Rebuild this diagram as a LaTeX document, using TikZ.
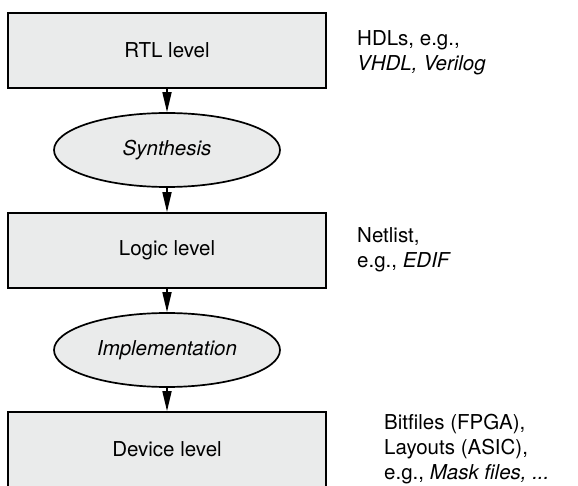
\documentclass[tikz,border=0pt]{standalone}
\usepackage{fontspec}
\setmainfont{TeX Gyre Heros}
\usetikzlibrary{shapes.geometric,arrows.meta}
\definecolor{boxgray}{RGB}{234,235,235}
\newcommand{\diagfont}{\fontsize{20.5}{25}\selectfont}
\tikzset{
  level/.style={draw, line width=1.7pt, fill=boxgray, minimum width=318pt, minimum height=75pt, inner sep=0pt},
  tool/.style={ellipse, draw, line width=1.7pt, fill=boxgray, minimum width=226pt, minimum height=74pt, inner sep=0pt, font=\diagfont\itshape},
  note/.style={anchor=west, align=left, inner sep=0pt},
  flow/.style={-{Triangle[width=9pt,length=20pt]}, line width=1.7pt}
}
\begin{document}
\begin{tikzpicture}[x=1pt,y=-1pt,font=\diagfont]
            \useasboundingbox (0,0) rectangle (578,486);
            \node[level] (rtl) at (167,50.5){RTL level};
            \node[tool] (syn) at (167,150){Synthesis};
            \node[level] (logic) at (167,250.5){Logic level};
            \node[tool] (impl) at (167,350){Implementation};
            \node[level] (dev) at (167,449.5){Device level};

            \path[flow] (rtl) edge (syn);
            \path[flow] (syn) edge (logic);
            \path[flow] (logic) edge (impl);
            \path[flow] (impl) edge (dev);

            \node[note] (hdl) at (357,53){HDLs, e.g.,\\\textit{VHDL, Verilog}};
            \node[note] (netlist) at (357,250){Netlist,\\e.g., \textit{EDIF}};
            \node[note] (bitfile) at (384,449){Bitfiles (FPGA),\\Layouts (ASIC),\\e.g., \textit{Mask files, ...}};
        \end{tikzpicture}
\end{document}
